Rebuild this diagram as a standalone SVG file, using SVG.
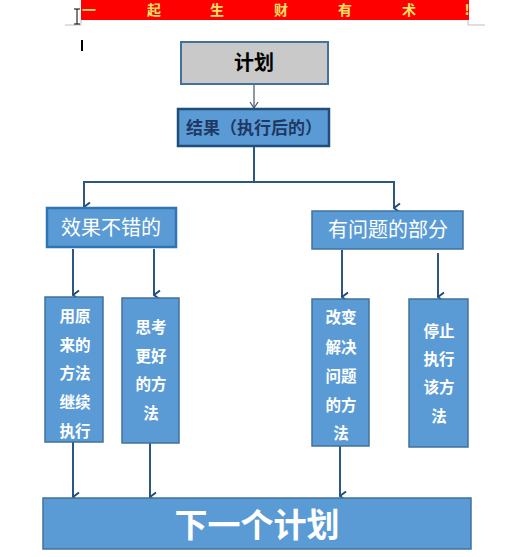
<svg xmlns="http://www.w3.org/2000/svg" width="526" height="557" viewBox="0 0 526 557">
<defs>
<style>
.t{font-family:"Noto Sans CJK SC","Noto Sans",sans-serif;text-anchor:middle}
.box{fill:#5B9BD5;stroke:#41719C;stroke-width:1.5}
.w{fill:#FFFFFF}
.wb{fill:#FFFFFF;font-weight:bold;font-size:15.5px}
.c{fill:none;stroke:#2A5783;stroke-width:2}
</style>
<marker id="ah" markerUnits="userSpaceOnUse" markerWidth="12" markerHeight="10" refX="6" refY="9" orient="auto-start-reverse" viewBox="0 0 12 10">
<path d="M1.5,3 L6,9 L10.5,3" fill="none" stroke="#1F4E79" stroke-width="2"/>
</marker>
<marker id="ah2" markerUnits="userSpaceOnUse" markerWidth="12" markerHeight="10" refX="6" refY="9" viewBox="0 0 12 10">
<path d="M2,3 L6,9 L10,3" fill="none" stroke="#44546A" stroke-width="1.2"/>
</marker>
</defs>
<rect width="526" height="557" fill="#FFFFFF"/>
<g id="banner">
<rect x="81" y="0" width="388" height="20" fill="#FF0000"/>
<text class="t" y="15" font-size="14" font-weight="bold" fill="#FFE066" x="89 154 217 281 345 409 467">一起生财有术!</text>
<path d="M65,25 H81 V20 M468,20 V25 H485" fill="none" stroke="#BFBFBF" stroke-width="1"/>
<path d="M74,9 H80 M77,9 V24 M74,24 H80" fill="none" stroke="#000" stroke-width="1"/>
<rect x="81" y="40" width="2" height="11" fill="#000"/>
</g>
<g id="connectors">
<line x1="254" y1="84" x2="254" y2="108" stroke="#44546A" stroke-width="1.2" marker-end="url(#ah2)"/>
<line class="c" x1="254" y1="146" x2="254" y2="183"/>
<polyline class="c" points="84,207 84,182 394,182 394,208" marker-end="url(#ah)"/>
<line class="c" x1="84" y1="182" x2="84" y2="207" marker-end="url(#ah)"/>
<line class="c" x1="73" y1="249" x2="73" y2="295" marker-end="url(#ah)"/>
<line class="c" x1="154" y1="249" x2="154" y2="295" marker-end="url(#ah)"/>
<line class="c" x1="342" y1="250" x2="342" y2="297" marker-end="url(#ah)"/>
<line class="c" x1="438" y1="253" x2="438" y2="297" marker-end="url(#ah)"/>
<line class="c" x1="73" y1="442" x2="73" y2="497" marker-end="url(#ah)"/>
<line class="c" x1="150" y1="443" x2="150" y2="497" marker-end="url(#ah)"/>
<line class="c" x1="340" y1="446" x2="340" y2="496" marker-end="url(#ah)"/>
</g>
<g id="plan">
<rect x="181" y="42" width="147" height="42" fill="#C9C9C9" stroke="#41719C" stroke-width="2"/>
<text class="t" x="254" y="70" font-size="20" font-weight="bold" fill="#000">计划</text>
</g>
<g id="result">
<rect x="178" y="109" width="151" height="37" fill="#5B9BD5" stroke="#1F4E79" stroke-width="2.5"/>
<text class="t" x="254" y="134" font-size="17" font-weight="bold" fill="#1F3864">结果（执行后的）</text>
</g>
<g id="good">
<rect x="47" y="208" width="129" height="39" fill="#5B9BD5" stroke="#2E75B6" stroke-width="2.5"/>
<text class="t w" x="111" y="235" font-size="20">效果不错的</text>
</g>
<g id="problem">
<rect class="box" x="312" y="211" width="151" height="38"/>
<text class="t w" x="388" y="237" font-size="20">有问题的部分</text>
</g>
<g id="keep">
<rect class="box" x="45" y="297" width="58" height="145"/>
<text class="t wb" x="75" y="322">用原</text>
<text class="t wb" x="75" y="351">来的</text>
<text class="t wb" x="75" y="379">方法</text>
<text class="t wb" x="75" y="408">继续</text>
<text class="t wb" x="75" y="437">执行</text>
</g>
<g id="think">
<rect class="box" x="122" y="298" width="57" height="145"/>
<text class="t wb" x="151" y="333">思考</text>
<text class="t wb" x="151" y="362">更好</text>
<text class="t wb" x="151" y="390">的方</text>
<text class="t wb" x="151" y="419">法</text>
</g>
<g id="change">
<rect class="box" x="312" y="299" width="57" height="147"/>
<text class="t wb" x="341" y="323">改变</text>
<text class="t wb" x="341" y="353">解决</text>
<text class="t wb" x="341" y="382">问题</text>
<text class="t wb" x="341" y="411">的方</text>
<text class="t wb" x="341" y="439">法</text>
</g>
<g id="stop">
<rect class="box" x="409" y="299" width="59" height="148"/>
<text class="t wb" x="439" y="337">停止</text>
<text class="t wb" x="439" y="365">执行</text>
<text class="t wb" x="439" y="393">该方</text>
<text class="t wb" x="439" y="422">法</text>
</g>
<g id="next">
<rect class="box" x="43" y="498" width="428" height="51"/>
<text class="t w" x="257" y="537" font-size="33" font-weight="bold">下一个计划</text>
</g>
</svg>
